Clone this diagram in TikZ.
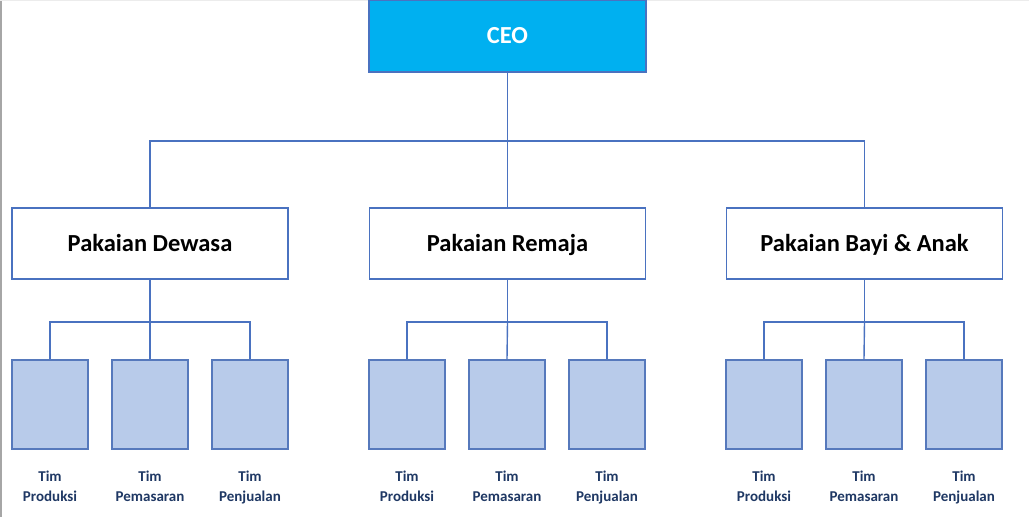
\documentclass[tikz,border=0pt]{standalone}
\usepackage{fontspec}
\setmainfont{Carlito}
\definecolor{ceofill}{HTML}{00B0F0}
\definecolor{linec}{HTML}{4A72C0}
\definecolor{subfill}{HTML}{B8CBEA}
\definecolor{subline}{HTML}{5679BC}
\definecolor{labc}{HTML}{1F3864}
\begin{document}
\begin{tikzpicture}[x=1pt,y=-1pt,
  conn/.style={draw=linec,line width=1.4pt},
  ceobox/.style={draw=linec,line width=1.4pt,fill=ceofill,minimum width=277pt,minimum height=72pt,inner sep=0pt,
    font=\fontsize{24.5}{28}\selectfont\bfseries,text=white,text height=15.8pt,text depth=0pt},
  deptbox/.style={draw=linec,line width=1.4pt,fill=white,minimum width=276pt,minimum height=71pt,inner sep=0pt,
    font=\fontsize{24.5}{28}\selectfont\bfseries,text=black,text height=15.8pt,text depth=0pt},
  subbox/.style={draw=subline,line width=1.4pt,fill=subfill,minimum width=76pt,minimum height=89pt,inner sep=0pt},
  sublabel/.style={align=center,font=\fontsize{15}{19.5}\selectfont\bfseries,text=labc,inner sep=0pt,anchor=north}]
\useasboundingbox (0,0) rectangle (1029,517);
\fill[white] (0,0) rectangle (1029,517);
\draw[gray!70,line width=1.5pt] (0.75,0) -- (0.75,517);
\draw[gray!15,line width=1pt] (0,0.5) -- (1029,0.5);

\node[ceobox] (ceo) at (507.5,36) {CEO};
\node[deptbox] (d1) at (150,243.5) {Pakaian Dewasa};
\node[deptbox] (d2) at (507.5,243.5) {Pakaian Remaja};
\node[deptbox] (d3) at (864.5,243.5) {Pakaian Bayi \& Anak};

\coordinate (j0) at (507.5,141);
\draw[conn] (ceo.south) -- (j0);
\draw[conn] (d1.north) |- (j0) -| (d3.north);
\draw[conn] (j0) -- (d2.north);

\foreach \g/\cx/\a/\b/\c in {1/150/50/150/250, 2/507.5/407/507/607, 3/864.5/764/864/964}{
  \node[subbox] (s\g a) at (\a,404.5) {};
  \node[subbox] (s\g b) at (\b,404.5) {};
  \node[subbox] (s\g c) at (\c,404.5) {};
  \coordinate (k\g) at (\cx,322);
  \draw[conn] (d\g.south) -- (k\g);
  \draw[conn] (s\g a.north) |- (k\g) -| (s\g c.north);
  \draw[conn] (k\g) -- (s\g b.north);
  \node[sublabel] (t\g a) at (\a,471) {Tim\\Produksi};
  \node[sublabel] (t\g b) at (\b,471) {Tim\\Pemasaran};
  \node[sublabel] (t\g c) at (\c,471) {Tim\\Penjualan};
}
\end{tikzpicture}
\end{document}
